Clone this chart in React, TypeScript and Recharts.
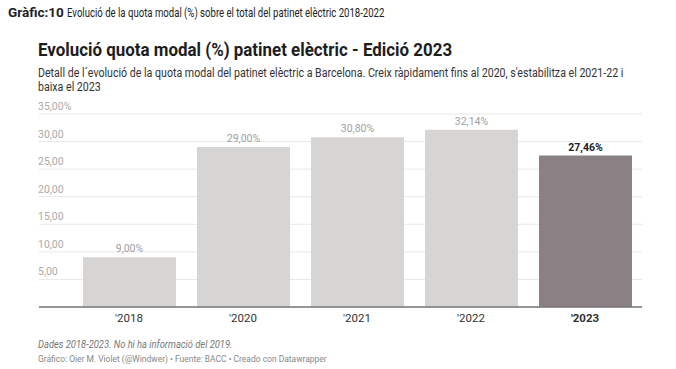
import React from 'react';
import { BarChart, Bar, XAxis, YAxis, CartesianGrid, LabelList, Cell } from 'recharts';

const years = ["'2018", "'2020", "'2021", "'2022", "'2023"];
const quota = [9.0, 29.0, 30.8, 32.14, 27.46];
const yTicks = [0, 5, 10, 15, 20, 25, 30, 35];

const data = years.map((year, i) => ({ year, value: quota[i] }));
const lastIndex = data.length - 1;

const fmt = (v: number) => v.toFixed(2).replace('.', ',');

const renderYTick = (props: any) => {
  const { y, payload } = props;
  if (payload.value === 0) return <g />;
  const label = payload.value === 35 ? `${fmt(payload.value)}%` : fmt(payload.value);
  return (
    <text x={38} y={y - 4} textAnchor="start" fill="#aaaaaa" fontSize={10.5} fontFamily="Roboto">
      {label}
    </text>
  );
};

const renderXTick = (props: any) => {
  const { x, y, payload, index } = props;
  const isLast = index === lastIndex;
  return (
    <text x={x} y={y + 7} textAnchor="middle" fill="#333" fontSize={11.5}
      fontWeight={isLast ? 700 : 400} fontFamily="Roboto">
      {payload.value}
    </text>
  );
};

const ValueLabel = (props: any) => {
  const { x, y, width, value, index } = props;
  const isLast = index === lastIndex;
  return (
    <text x={x + width / 2} y={y - 5} textAnchor="middle" fontSize={10.5} fontFamily="Roboto"
      fill={isLast ? '#222' : '#a0a0a0'} fontWeight={isLast ? 700 : 400}>
      {fmt(value)}%
    </text>
  );
};

const narrow = (s: number): React.CSSProperties => ({
  display: 'inline-block', transform: `scaleX(${s})`, transformOrigin: 'left center', whiteSpace: 'nowrap',
});

export default function App() {
  return (
    <div style={{ position: 'absolute', left: 0, top: 0, width: 676, height: 369, background: '#fff', fontFamily: 'Roboto' }}>
      <div style={{ position: 'absolute', left: 8, top: 4, fontSize: 13.5, color: '#222', whiteSpace: 'nowrap' }}>
        <b>Gràfic:10</b>{' '}
        <span style={narrow(0.71)}>Evolució de la quota modal (%) sobre el total del patinet elèctric 2018-2022</span>
      </div>
      <div style={{ position: 'absolute', left: 38, top: 38, fontSize: 19, fontWeight: 700, color: '#1d1d1d', ...narrow(0.89) }}>
        Evolució quota modal (%) patinet elèctric - Edició 2023
      </div>
      <div style={{ position: 'absolute', left: 38, top: 66, width: 684, fontSize: 12, lineHeight: '14px', color: '#333',
        transform: 'scaleX(0.885)', transformOrigin: 'left top' }}>
        Detall de l´evolució de la quota modal del patinet elèctric a Barcelona. Creix ràpidament fins al 2020, s'estabilitza el 2021-22 i baixa el 2023
      </div>
      <div style={{ position: 'absolute', left: 0, top: 0 }}>
        <BarChart width={676} height={369} data={data}
          margin={{ top: 114, right: 34, left: 38, bottom: 32 }}>
          <CartesianGrid vertical={false} stroke="#e8e8e8" />
          <YAxis domain={[0, 35]} ticks={yTicks} width={1} interval={0} axisLine={false} tickLine={false} tick={renderYTick} />
          <XAxis dataKey="year" height={30} padding={{ left: 33, right: 0 }} axisLine={{ stroke: '#777', strokeWidth: 1.5 }}
            tickLine={false} tick={renderXTick} interval={0} />
          <Bar dataKey="value" barSize={93} isAnimationActive={false}>
            {data.map((d, i) => (
              <Cell key={d.year} fill={i === lastIndex ? '#8b8083' : '#d7d5d3'} />
            ))}
            <LabelList dataKey="value" content={<ValueLabel />} />
          </Bar>
        </BarChart>
      </div>
      <div style={{ position: 'absolute', left: 38, top: 338, fontSize: 10.5, fontStyle: 'italic', color: '#777', ...narrow(0.89) }}>
        Dades 2018-2023. No hi ha informació del 2019.
      </div>
      <div style={{ position: 'absolute', left: 38, top: 353, fontSize: 9.5, color: '#888', ...narrow(0.89) }}>
        Gráfico: Oier M. Violet (@Windwer) • Fuente: BACC • Creado con Datawrapper
      </div>
    </div>
  );
}
